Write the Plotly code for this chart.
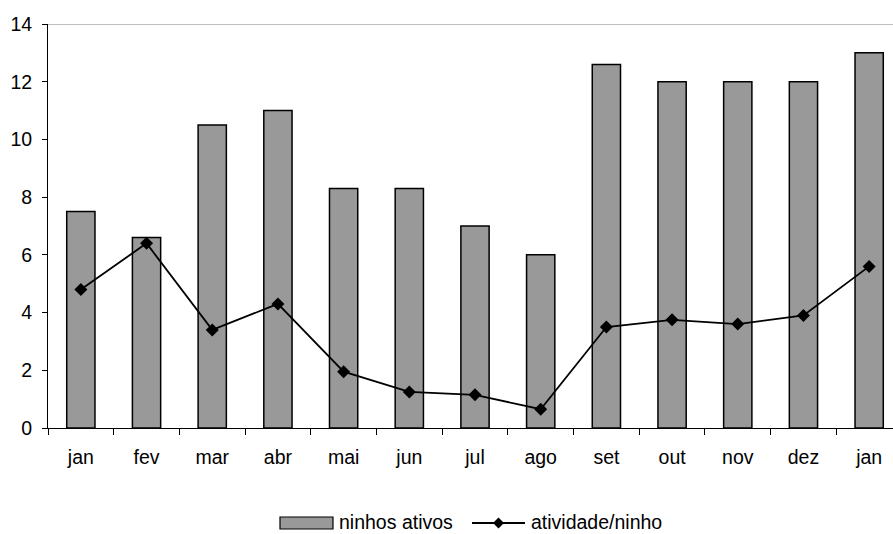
import plotly.graph_objects as go

# Monthly nest counts and activity per nest
months = ["jan", "fev", "mar", "abr", "mai", "jun", "jul", "ago",
          "set", "out", "nov", "dez", "jan"]
ninhos_ativos = [7.5, 6.6, 10.5, 11.0, 8.3, 8.3, 7.0, 6.0, 12.6, 12.0, 12.0, 12.0, 13.0]
atividade_ninho = [4.8, 6.4, 3.4, 4.3, 1.95, 1.25, 1.15, 0.65, 3.5, 3.75, 3.6, 3.9, 5.6]
y_ticks = [0, 2, 4, 6, 8, 10, 12, 14]

W, H = 893, 534
L, R, T, B = 48, 0, 24, 106
FONT = "Liberation Sans, Arial, sans-serif"
FONT_SIZE = 19.5
BAR_FILL = "#999999"

x_pos = list(range(len(months)))

fig = go.Figure()
fig.add_trace(go.Bar(
    x=x_pos, y=ninhos_ativos, name="ninhos ativos", width=0.43,
    marker=dict(color=BAR_FILL, line=dict(color="black", width=1.5)),
    showlegend=False,
))
fig.add_trace(go.Scatter(
    x=x_pos, y=atividade_ninho, name="atividade/ninho", mode="lines+markers",
    line=dict(color="black", width=1.8),
    marker=dict(symbol="diamond", size=10, color="black"),
    showlegend=False,
))

# pixel -> paper helpers for the legend drawn under the plot
pw, ph = W - L - R, H - T - B
def px(x):
    return (x - L) / pw
def py(y):
    return (H - B - y) / ph

shapes = [
    # light frame line along the top of the plot area
    dict(type="line", xref="paper", yref="y", x0=0, x1=1, y0=14, y1=14,
         line=dict(color="#808080", width=1)),
    # legend: bar swatch
    dict(type="rect", xref="paper", yref="paper",
         x0=px(280), x1=px(333), y0=py(529), y1=py(517),
         fillcolor=BAR_FILL, line=dict(color="black", width=1.2)),
    # legend: line swatch
    dict(type="line", xref="paper", yref="paper",
         x0=px(472), x1=px(525), y0=py(523), y1=py(523),
         line=dict(color="black", width=1.8)),
]
cx, cy, r = 498.5, 523, 5.5
shapes.append(dict(
    type="path", xref="paper", yref="paper",
    path=f"M {px(cx - r)} {py(cy)} L {px(cx)} {py(cy - r)} L {px(cx + r)} {py(cy)} "
         f"L {px(cx)} {py(cy + r)} Z",
    fillcolor="black", line=dict(color="black", width=0),
))

annotations = [
    dict(text="ninhos ativos", xref="paper", yref="paper", x=px(337), y=py(522),
         xanchor="left", yanchor="middle", showarrow=False,
         font=dict(family=FONT, size=FONT_SIZE, color="black")),
    dict(text="atividade/ninho", xref="paper", yref="paper", x=px(529), y=py(522),
         xanchor="left", yanchor="middle", showarrow=False,
         font=dict(family=FONT, size=FONT_SIZE, color="black")),
]

fig.update_layout(
    width=W, height=H,
    margin=dict(l=L, r=R, t=T, b=B, pad=0),
    paper_bgcolor="white", plot_bgcolor="white",
    font=dict(family=FONT, size=FONT_SIZE, color="black"),
    showlegend=False,
    shapes=shapes, annotations=annotations,
    xaxis=dict(
        range=[-0.5, 12.5 - 9 / 65.7],
        tickmode="array", tickvals=x_pos, ticktext=months,
        ticks="", showgrid=False, zeroline=False,
        showline=True, linecolor="black", linewidth=1,
        ticklabelstandoff=12,
        minor=dict(tickmode="linear", tick0=0.5, dtick=1, ticks="outside",
                   ticklen=6, tickcolor="black", tickwidth=1, showgrid=False),
    ),
    yaxis=dict(
        range=[0, 14], tickmode="array", tickvals=y_ticks,
        ticks="outside", ticklen=5, tickcolor="black", tickwidth=1,
        showgrid=False, zeroline=False,
        showline=True, linecolor="black", linewidth=1,
        ticklabelstandoff=6,
    ),
)

fig.write_html("out.html")
